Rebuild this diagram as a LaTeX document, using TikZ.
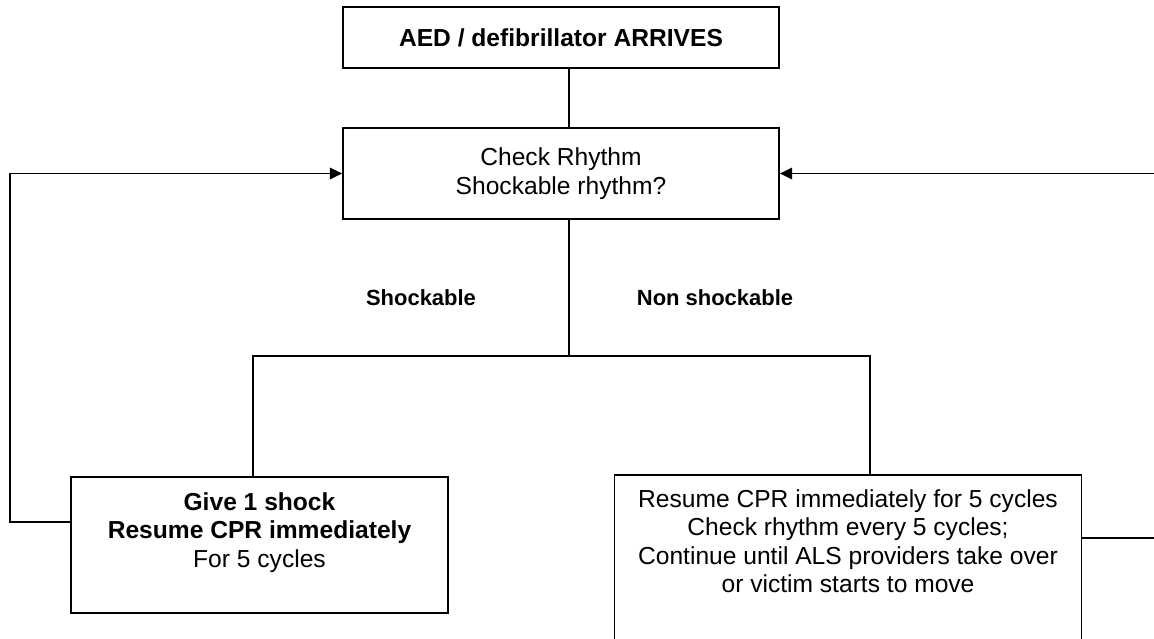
\documentclass[tikz,border=0pt]{standalone}
\usepackage{fontspec}
\setmainfont{Liberation Sans}
\usetikzlibrary{arrows.meta}

\begin{document}
\begin{tikzpicture}[x=0.02cm,y=-0.02cm]
  \tikzset{box/.append style={draw, line width=1pt, inner sep=0},
    txt/.append style={align=center, font=\fontsize{14}{16.3}\selectfont},
    lbl/.append style={font=\bfseries\fontsize{12.5}{15}\selectfont},
    flow/.append style={line width=1pt},
    flowarr/.append style={flow, -{Triangle[length=7pt,width=6.5pt]}}}
  \useasboundingbox (0,0) rectangle (1154,639);
  \clip (0,0) rectangle (1154,639);

  \node[box, txt, minimum width=8.72cm, minimum height=1.22cm] (aed) at (561,37.5)
    {\bfseries AED / defibrillator ARRIVES};
  \node[box, txt, minimum width=8.72cm, minimum height=1.82cm] (rhythm) at (561,173.5)
    {Check Rhythm\\Shockable rhythm?};

  \node[box, minimum width=7.54cm, minimum height=2.72cm] (shock) at (259.5,545) {};
  \node[txt, anchor=north] (shocktxt) at (259.5,486)
    {\textbf{Give 1 shock}\\\textbf{Resume CPR immediately}\\For 5 cycles};
  \node[box, minimum width=9.34cm, minimum height=3.9cm] (cpr) at (848,572.5) {};
  \node[txt, anchor=north] (cprtxt) at (848,483)
    {Resume CPR immediately for 5 cycles\\Check rhythm every 5 cycles;\\
     Continue until ALS providers take over\\or victim starts to move};

  \node[lbl] (yes) at (421,298) {Shockable};
  \node[lbl] (no) at (715,298) {Non shockable};

  \coordinate (split) at (569,356);
  \coordinate (brL) at (253,356);
  \coordinate (brR) at (870,356);
  \coordinate (loopL) at (10,173.5);
  \coordinate (loopR) at (1157,173.5);

  \draw[flow] (aed.south -| split) -- (rhythm.north -| split);
  \draw[flow] (rhythm.south -| split) -- (split);
  \draw[flow] (shock.north -| brL) -- (brL) -- (brR) -- (cpr.north -| brR);
  \draw[flowarr] ([yshift=0.46cm]shock.west) -| (loopL) -- (rhythm.west);
  \draw[flowarr] ([yshift=0.69cm]cpr.east) -| (loopR) -- (rhythm.east);
\end{tikzpicture}
\end{document}
